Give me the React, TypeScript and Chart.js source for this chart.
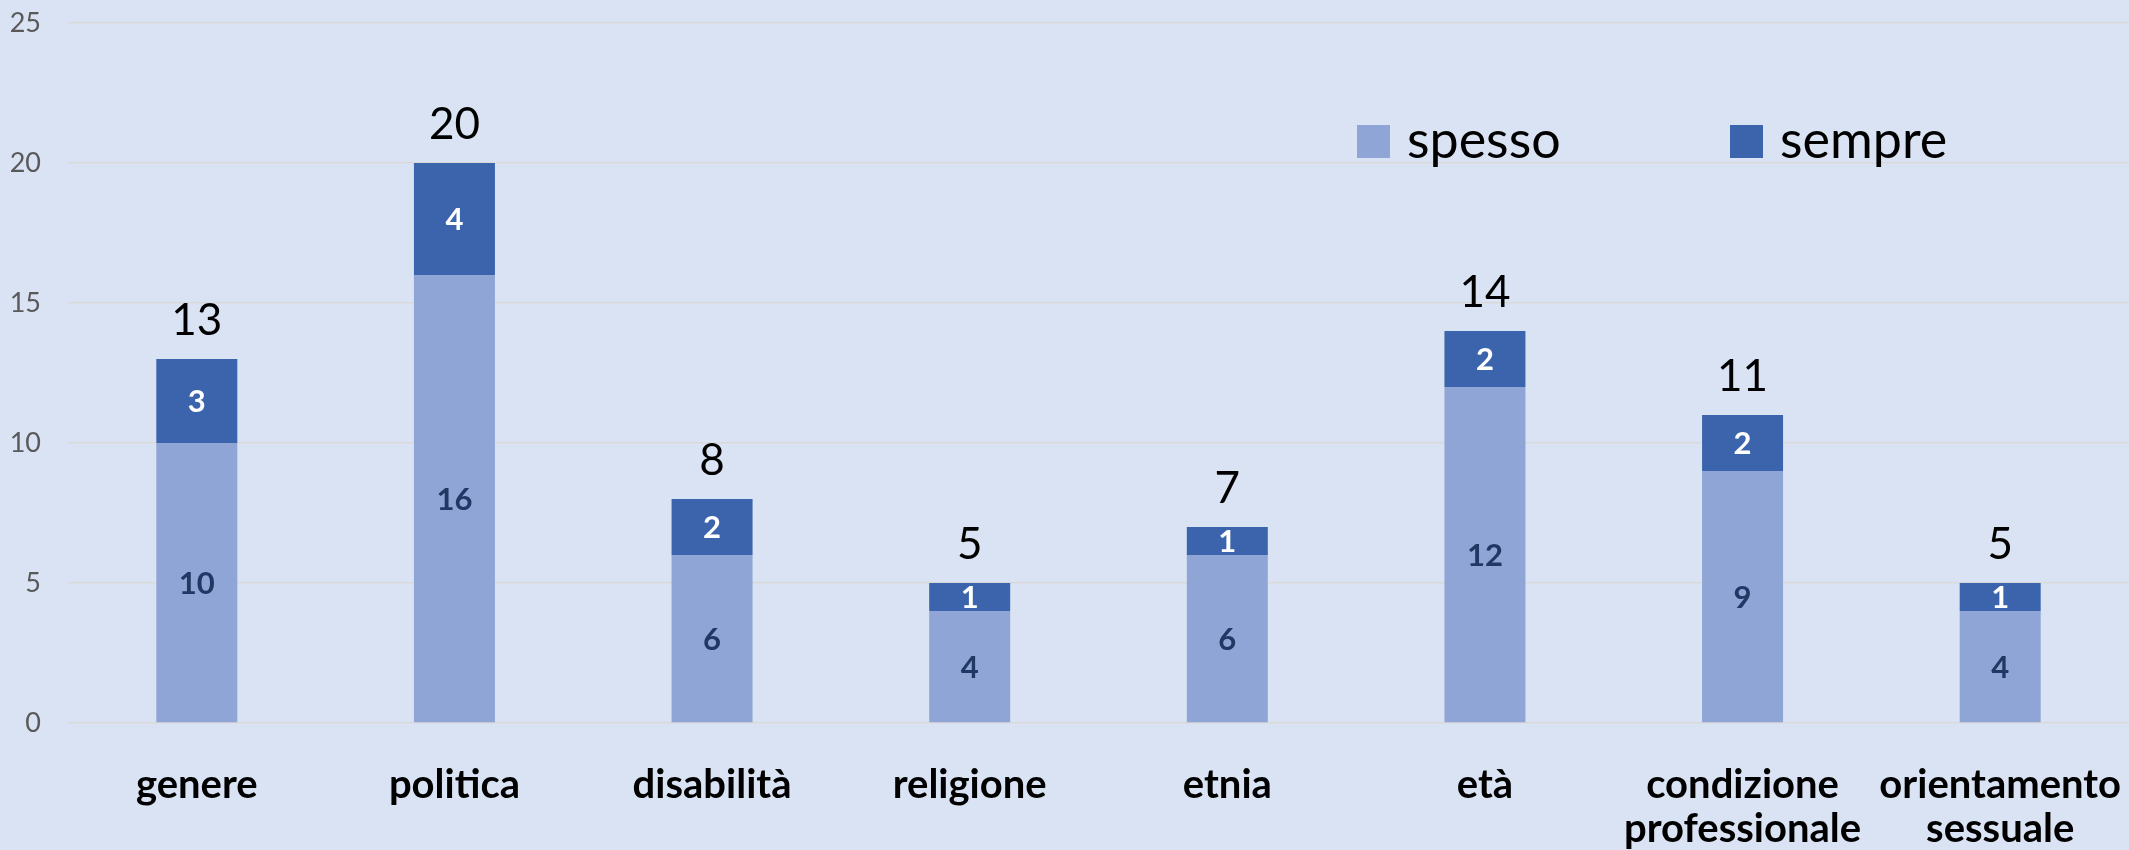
import React, { useEffect, useRef } from "react";
import { Chart, registerables } from "chart.js";

Chart.register(...registerables);

const categories: string[][] = [
  ["genere"],
  ["politica"],
  ["disabilità"],
  ["religione"],
  ["etnia"],
  ["età"],
  ["condizione", "professionale"],
  ["orientamento", "sessuale"],
];
const spesso: number[] = [10, 16, 6, 4, 6, 12, 9, 4];
const sempre: number[] = [3, 4, 2, 1, 1, 2, 2, 1];
const seriesNames: string[] = ["spesso", "sempre"];
const yMin = 0;
const yMax = 25;
const yStep = 5;

const BG = "#DAE3F3";
const C_SPESSO = "#8FA5D5";
const C_SEMPRE = "#3B64AD";
const FONT = "Lato";

const valueLabelsPlugin = {
  id: "valueLabels",
  afterDatasetsDraw(chart: any) {
    const ctx = chart.ctx;
    ctx.save();
    ctx.textAlign = "center";
    chart.data.datasets.forEach((ds: any, di: number) => {
      const meta = chart.getDatasetMeta(di);
      meta.data.forEach((bar: any, i: number) => {
        const p = bar.getProps(["x", "y", "base"], true);
        ctx.fillStyle = di === 0 ? "#203864" : "#FFFFFF";
        ctx.font = `bold 31px ${FONT}`;
        ctx.textBaseline = "middle";
        ctx.fillText(String(ds.data[i]), p.x, (p.y + p.base) / 2 + 1);
      });
    });
    const topMeta = chart.getDatasetMeta(chart.data.datasets.length - 1);
    topMeta.data.forEach((bar: any, i: number) => {
      const p = bar.getProps(["x", "y"], true);
      const total = chart.data.datasets.reduce((s: number, ds: any) => s + ds.data[i], 0);
      ctx.fillStyle = "#000000";
      ctx.font = `44px ${FONT}`;
      ctx.textBaseline = "alphabetic";
      ctx.fillText(String(total), p.x, p.y - 24);
    });
    ctx.restore();
  },
};

const customLegendPlugin = {
  id: "customLegend",
  afterDraw(chart: any) {
    const ctx = chart.ctx;
    ctx.save();
    const positions = [1357, 1730];
    chart.data.datasets.forEach((ds: any, di: number) => {
      const x = positions[di];
      ctx.fillStyle = ds.backgroundColor;
      ctx.fillRect(x, 125, 33, 33);
      ctx.fillStyle = "#000000";
      ctx.font = `52px ${FONT}`;
      ctx.textAlign = "left";
      ctx.textBaseline = "alphabetic";
      ctx.fillText(ds.label, x + 50, 158);
    });
    ctx.restore();
  },
};

export default function App() {
  const ref = useRef<HTMLCanvasElement | null>(null);
  useEffect(() => {
    if (!ref.current) return;
    const chart = new Chart(ref.current, {
      type: "bar",
      data: {
        labels: categories,
        datasets: [
          { label: seriesNames[0], data: spesso, backgroundColor: C_SPESSO, barPercentage: 0.3144, categoryPercentage: 1 },
          { label: seriesNames[1], data: sempre, backgroundColor: C_SEMPRE, barPercentage: 0.3144, categoryPercentage: 1 },
        ],
      },
      options: {
        responsive: false,
        animation: false,
        devicePixelRatio: 1,
        layout: { padding: { top: 23, right: 0, bottom: 0, left: 0 } },
        plugins: {
          legend: { display: false },
          tooltip: { enabled: false },
        },
        scales: {
          x: {
            stacked: true,
            grid: {
              display: true,
              drawOnChartArea: false,
              drawTicks: true,
              tickLength: 40,
              color: "rgba(0,0,0,0)",
              tickColor: "rgba(0,0,0,0)",
            },
            border: { display: false },
            ticks: {
              color: "#000000",
              font: { family: FONT, size: 40, weight: "bold", lineHeight: 1.1 },
              padding: 0,
              maxRotation: 0,
              autoSkip: false,
            },
            afterFit: (s: any) => {
              s.height = 127;
            },
          },
          y: {
            stacked: true,
            min: yMin,
            max: yMax,
            grid: { color: "#D9D9D9", lineWidth: 1.5, drawTicks: true, tickLength: 27, tickColor: "rgba(0,0,0,0)" },
            border: { display: false },
            ticks: {
              stepSize: yStep,
              color: "#595959",
              font: { family: FONT, size: 27 },
              padding: 0,
            },
            afterFit: (s: any) => {
              s.width = 68;
            },
          },
        },
      },
      plugins: [valueLabelsPlugin, customLegendPlugin],
    });
    return () => chart.destroy();
  }, []);
  return (
    <div style={{ position: "fixed", left: 0, top: 0, width: 2129, height: 850, background: BG }}>
      <canvas ref={ref} width={2129} height={850} />
    </div>
  );
}
